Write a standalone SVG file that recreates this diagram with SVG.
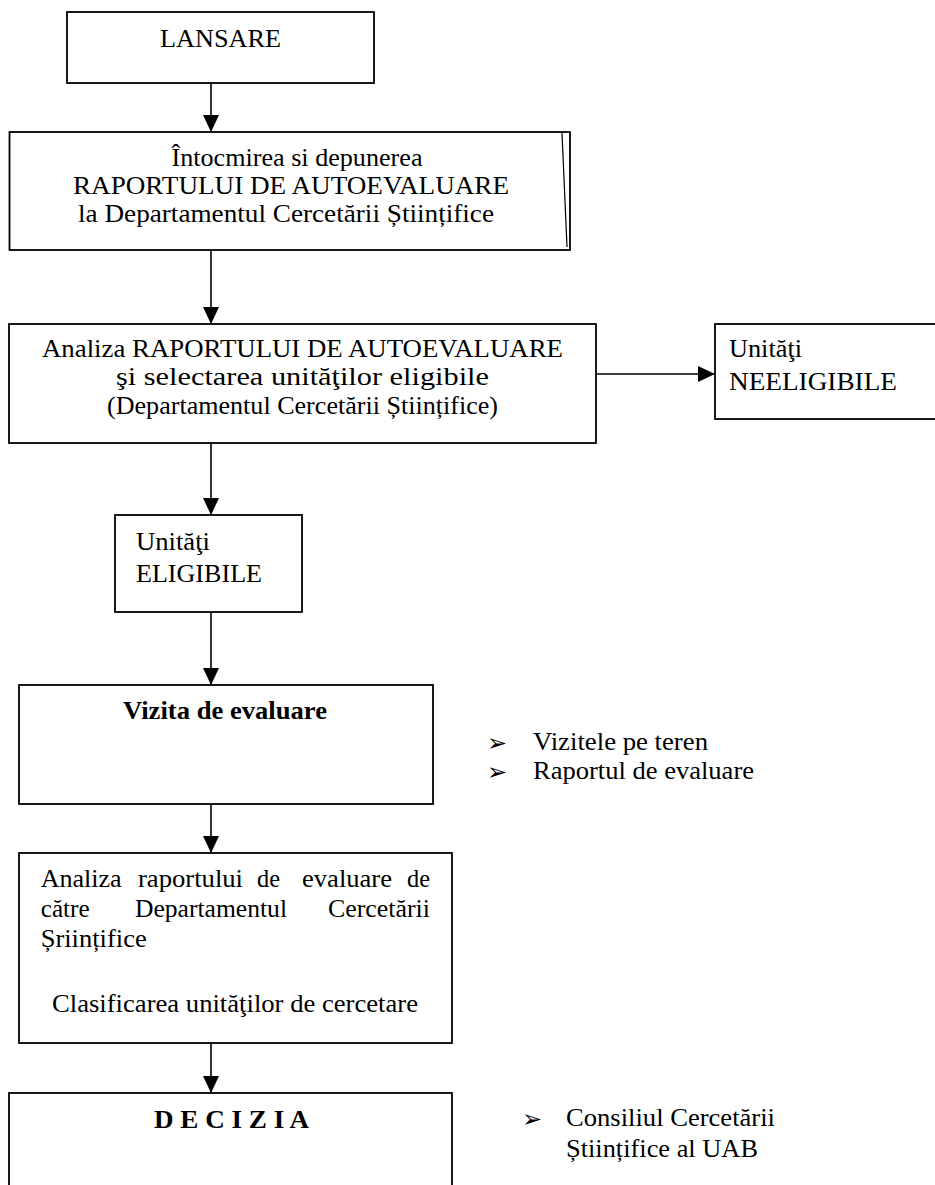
<svg xmlns="http://www.w3.org/2000/svg" width="935" height="1185" viewBox="0 0 935 1185">
<style>
.box{fill:#fff;stroke:#000;stroke-width:1.8}
.t{font-family:"Liberation Serif","Times New Roman",serif;font-size:25px;fill:#000}
.b{font-weight:bold}
.c{text-anchor:middle}
.bul{font-family:"DejaVu Sans",sans-serif;font-size:24px;fill:#000}
.con{stroke:#000;stroke-width:1.6;fill:none}
</style>
<defs>
<marker id="ah" markerUnits="userSpaceOnUse" markerWidth="17" markerHeight="17" viewBox="0 0 17 17" refX="17" refY="8.5" orient="auto">
<path d="M0,0.5 L17,8.5 L0,16.5 Z" fill="#000"/>
</marker>
</defs>
<rect width="935" height="1185" fill="#fff"/>
<g id="connectors">
<line class="con" x1="211" y1="83" x2="211" y2="132" marker-end="url(#ah)"/>
<line class="con" x1="211" y1="250" x2="211" y2="324" marker-end="url(#ah)"/>
<line class="con" x1="596" y1="374" x2="715" y2="374" marker-end="url(#ah)"/>
<line class="con" x1="211" y1="443" x2="211" y2="515" marker-end="url(#ah)"/>
<line class="con" x1="211" y1="612" x2="211" y2="685" marker-end="url(#ah)"/>
<line class="con" x1="211" y1="804" x2="211" y2="853" marker-end="url(#ah)"/>
<line class="con" x1="211" y1="1043" x2="211" y2="1093" marker-end="url(#ah)"/>
</g>
<g id="lansare">
<rect class="box" x="67" y="12" width="307" height="71"/>
<text class="t c" x="220.5" y="47" textLength="121" lengthAdjust="spacingAndGlyphs">LANSARE</text>
</g>
<g id="intocmire">
<rect class="box" x="9.5" y="132" width="560.5" height="118"/>
<line x1="562" y1="133" x2="567" y2="247" stroke="#000" stroke-width="1.2"/>
<text class="t c" x="297" y="166" textLength="251" lengthAdjust="spacingAndGlyphs">Întocmirea si depunerea</text>
<text class="t c" x="291" y="194" textLength="436" lengthAdjust="spacingAndGlyphs">RAPORTULUI DE AUTOEVALUARE</text>
<text class="t c" x="286" y="222" textLength="416" lengthAdjust="spacingAndGlyphs">la Departamentul Cercetării Științifice</text>
</g>
<g id="analiza-raport">
<rect class="box" x="9" y="324" width="587" height="119"/>
<text class="t c" x="302.5" y="357" textLength="521" lengthAdjust="spacingAndGlyphs">Analiza RAPORTULUI DE AUTOEVALUARE</text>
<text class="t c" x="302.5" y="385" textLength="373" lengthAdjust="spacingAndGlyphs">şi selectarea unităţilor eligibile</text>
<text class="t c" x="302.5" y="414" textLength="391" lengthAdjust="spacingAndGlyphs">(Departamentul Cercetării Științifice)</text>
</g>
<g id="neeligibile">
<rect class="box" x="715" y="324" width="225" height="95"/>
<text class="t" x="729" y="357" textLength="73" lengthAdjust="spacingAndGlyphs">Unităţi</text>
<text class="t" x="729" y="390" textLength="168" lengthAdjust="spacingAndGlyphs">NEELIGIBILE</text>
</g>
<g id="eligibile">
<rect class="box" x="115" y="515" width="187" height="97"/>
<text class="t" x="136" y="550" textLength="74" lengthAdjust="spacingAndGlyphs">Unităţi</text>
<text class="t" x="136" y="582" textLength="126" lengthAdjust="spacingAndGlyphs">ELIGIBILE</text>
</g>
<g id="vizita">
<rect class="box" x="19" y="685" width="414" height="119"/>
<text class="t b c" x="225" y="719" textLength="204" lengthAdjust="spacingAndGlyphs">Vizita de evaluare</text>
</g>
<g id="vizita-note">
<text class="bul" x="487" y="751">➢</text>
<text class="t" x="533" y="750" textLength="175" lengthAdjust="spacingAndGlyphs">Vizitele pe teren</text>
<text class="bul" x="487" y="780">➢</text>
<text class="t" x="533" y="779" textLength="221" lengthAdjust="spacingAndGlyphs">Raportul de evaluare</text>
</g>
<g id="analiza-evaluare">
<rect class="box" x="19" y="853" width="433" height="190"/>
<text class="t" x="40.7" y="887" textLength="81" lengthAdjust="spacingAndGlyphs">Analiza</text>
<text class="t" x="138" y="887" textLength="105" lengthAdjust="spacingAndGlyphs">raportului</text>
<text class="t" x="257" y="887" textLength="23" lengthAdjust="spacingAndGlyphs">de</text>
<text class="t" x="302" y="887" textLength="90" lengthAdjust="spacingAndGlyphs">evaluare</text>
<text class="t" x="407" y="887" textLength="23" lengthAdjust="spacingAndGlyphs">de</text>
<text class="t" x="40.7" y="917" textLength="49" lengthAdjust="spacingAndGlyphs">către</text>
<text class="t" x="135" y="917" textLength="152" lengthAdjust="spacingAndGlyphs">Departamentul</text>
<text class="t" x="328" y="917" textLength="102" lengthAdjust="spacingAndGlyphs">Cercetării</text>
<text class="t" x="40.7" y="947" textLength="106" lengthAdjust="spacingAndGlyphs">Șriințifice</text>
<text class="t c" x="235" y="1012" textLength="366" lengthAdjust="spacingAndGlyphs">Clasificarea unităţilor de cercetare</text>
</g>
<g id="decizia">
<rect class="box" x="9" y="1093" width="443" height="100"/>
<text class="t b c" x="231.5" y="1128" textLength="155" lengthAdjust="spacingAndGlyphs">D E C I Z I A</text>
</g>
<g id="decizia-note">
<text class="bul" x="522" y="1127">➢</text>
<text class="t" x="566" y="1126" textLength="209" lengthAdjust="spacingAndGlyphs">Consiliul Cercetării</text>
<text class="t" x="566" y="1157" textLength="192" lengthAdjust="spacingAndGlyphs">Științifice al UAB</text>
</g>
</svg>
